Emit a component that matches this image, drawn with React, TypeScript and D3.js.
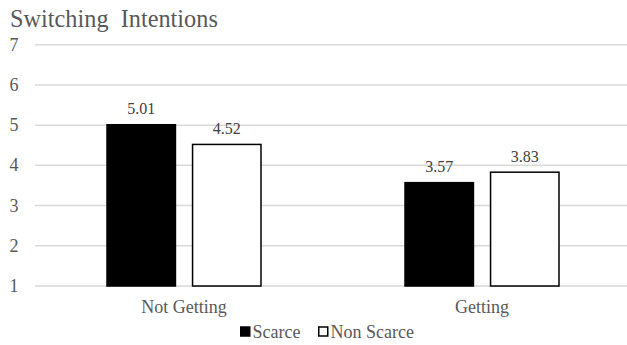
import { useEffect, useRef } from 'react'
import * as d3 from 'd3'

// Chart data
const categories = ['Not Getting', 'Getting']
const series = ['Scarce', 'Non Scarce']
const scarceValues = [5.01, 3.57]
const nonScarceValues = [4.52, 3.83]
const yTicks = [1, 2, 3, 4, 5, 6, 7]

const W = 627
const H = 345

const SwitchingChart = () => {
	const svgRef = useRef(null)

	useEffect(() => {
		const font = '"Liberation Serif", "Times New Roman", serif'
		const textColor = '#595959'

		const svg = d3.select(svgRef.current)
		svg.selectAll('*').remove()
		svg.attr('width', W).attr('height', H)

		svg.append('rect').attr('width', W).attr('height', H).attr('fill', '#fff')

		// Scales
		const x = d3.scaleBand().domain(categories).range([35, 631])
		const xSub = d3
			.scaleBand()
			.domain(series)
			.range([72, 226])
			.paddingInner(0.2)
		const y = d3.scaleLinear().domain([1, 7]).range([286, 44.7])

		// Title
		svg
			.append('text')
			.attr('x', 10)
			.attr('y', 26.5)
			.style('font-family', font)
			.style('font-size', '24.3px')
			.style('fill', textColor)
			.style('white-space', 'pre')
			.text('Switching  Intentions')

		// Gridlines
		svg
			.append('g')
			.selectAll('line')
			.data(yTicks)
			.enter()
			.append('line')
			.attr('x1', 35)
			.attr('x2', W)
			.attr('y1', (d) => y(d))
			.attr('y2', (d) => y(d))
			.attr('stroke', '#d9d9d9')
			.attr('stroke-width', 1.5)

		// Y tick labels
		svg
			.append('g')
			.selectAll('text')
			.data(yTicks)
			.enter()
			.append('text')
			.attr('x', 14)
			.attr('y', (d) => y(d) + 6)
			.attr('text-anchor', 'middle')
			.style('font-family', font)
			.style('font-size', '18px')
			.style('fill', textColor)
			.text((d) => d)

		// Bars
		const rows = categories.map((c, i) => ({
			category: c,
			values: [
				{ key: series[0], value: scarceValues[i] },
				{ key: series[1], value: nonScarceValues[i] },
			],
		}))

		const groups = svg
			.append('g')
			.selectAll('g')
			.data(rows)
			.enter()
			.append('g')
			.attr('transform', (d) => `translate(${x(d.category)},0)`)

		groups
			.selectAll('rect')
			.data((d) => d.values)
			.enter()
			.append('rect')
			.attr('x', (d) => xSub(d.key))
			.attr('width', xSub.bandwidth())
			.attr('y', (d) => y(d.value))
			.attr('height', (d) => y(1) - y(d.value))
			.attr('fill', (d) => (d.key === 'Scarce' ? '#000' : '#fff'))
			.attr('stroke', '#000')
			.attr('stroke-width', 1.5)

		// Value labels
		groups
			.selectAll('text')
			.data((d) => d.values)
			.enter()
			.append('text')
			.attr('x', (d) => xSub(d.key) + xSub.bandwidth() / 2)
			.attr('y', (d) => y(d.value) - 10.5)
			.attr('text-anchor', 'middle')
			.style('font-family', font)
			.style('font-size', '16px')
			.style('fill', '#404040')
			.text((d) => d.value.toFixed(2))

		// Category labels
		svg
			.append('g')
			.selectAll('text')
			.data(categories)
			.enter()
			.append('text')
			.attr('x', (d) => x(d) + x.bandwidth() / 2)
			.attr('y', 313)
			.attr('text-anchor', 'middle')
			.style('font-family', font)
			.style('font-size', '18px')
			.style('fill', textColor)
			.text((d) => d)

		// Legend
		const legendX = [240, 318]
		const legend = svg
			.append('g')
			.selectAll('g')
			.data(series)
			.enter()
			.append('g')
			.attr('transform', (d, i) => `translate(${legendX[i]},0)`)

		legend
			.append('rect')
			.attr('x', 0.75)
			.attr('y', 327)
			.attr('width', 9)
			.attr('height', 9)
			.attr('fill', (d) => (d === 'Scarce' ? '#000' : '#fff'))
			.attr('stroke', '#000')
			.attr('stroke-width', 1.5)

		legend
			.append('text')
			.attr('x', 12.5)
			.attr('y', 338)
			.style('font-family', font)
			.style('font-size', '18px')
			.style('fill', textColor)
			.text((d) => d)
	}, [])

	return (
		<svg
			ref={svgRef}
			style={{ position: 'absolute', left: 0, top: 0, display: 'block' }}
		></svg>
	)
}

export default function App() {
	return <SwitchingChart />
}
